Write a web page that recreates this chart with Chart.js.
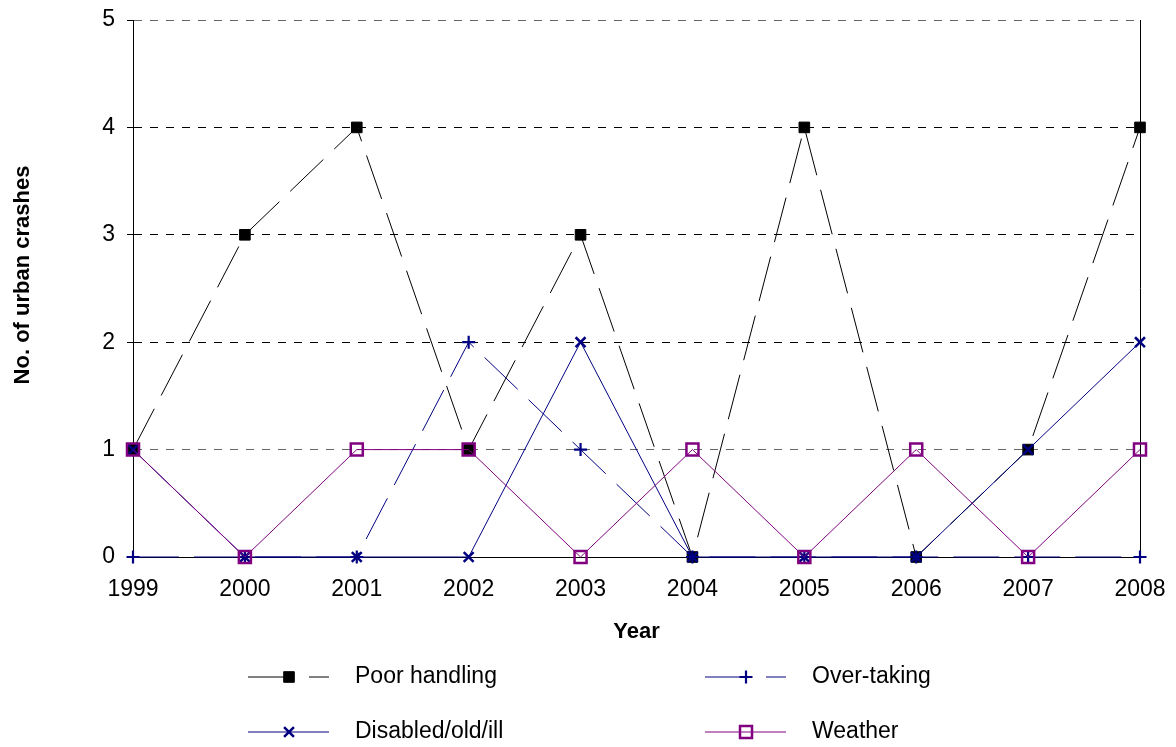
<!DOCTYPE html>
<html>
<head>
<meta charset="utf-8">
<title>Urban crashes</title>
<script src="https://cdn.jsdelivr.net/npm/chart.js@4.4.1/dist/chart.umd.min.js"></script>
<style>
  body { margin: 0; background: #fff; }
  #wrap { width: 1176px; height: 747px; }
</style>
</head>
<body>
<div id="wrap"><canvas id="chart" width="1176" height="747"></canvas></div>
<script>
// datos
const years = ['1999', '2000', '2001', '2002', '2003', '2004', '2005', '2006', '2007', '2008']
const poorHandling = [1, 3, 4, 1, 3, 0, 4, 0, 1, 4]
const overTaking = [0, 0, 0, 2, 1, 0, 0, 0, 0, 0]
const disabledOldIll = [1, 0, 0, 0, 2, 0, 0, 0, 1, 2]
const weather = [1, 0, 1, 1, 0, 1, 0, 1, 0, 1]
const seriesNames = ['Poor handling', 'Over-taking', 'Disabled/old/ill', 'Weather']

const FONT = "'Liberation Sans', Arial, sans-serif"
const NAVY = '#000080'
const PURPLE = '#800080'
const DASH = [46, 15]

Chart.defaults.font.family = FONT
Chart.defaults.color = '#000'

const datasets = [
    {
        label: seriesNames[0], data: poorHandling, order: 3,
        borderColor: '#000', borderWidth: 1, borderDash: DASH,
        pointStyle: 'rect', pointRadius: 7.5, pointBorderWidth: 1,
        pointBackgroundColor: '#000', pointBorderColor: '#000'
    },
    {
        label: seriesNames[1], data: overTaking, order: 2,
        borderColor: NAVY, borderWidth: 1, borderDash: DASH,
        pointStyle: 'cross', pointRadius: 6.5, pointBorderWidth: 2.2,
        pointBackgroundColor: NAVY, pointBorderColor: NAVY
    },
    {
        label: seriesNames[2], data: disabledOldIll, order: 1,
        borderColor: NAVY, borderWidth: 1,
        pointStyle: 'crossRot', pointRadius: 7, pointBorderWidth: 2.5,
        pointBackgroundColor: NAVY, pointBorderColor: NAVY
    },
    {
        label: seriesNames[3], data: weather, order: 0,
        borderColor: PURPLE, borderWidth: 1,
        pointStyle: 'rect', pointRadius: 8.5, pointBorderWidth: 2.5,
        pointBackgroundColor: 'rgba(0,0,0,0)', pointBorderColor: PURPLE
    }
]
datasets.forEach(d => { d.tension = 0; d.fill = false; d.clip = 20; d.pointHoverRadius = d.pointRadius })

// leyenda 2x2 como en el original
const legendPlugin = {
    id: 'boxLegend',
    afterDraw(chart) {
        const ctx = chart.ctx
        const cols = [248, 705]
        const rows = [677, 732]
        chart.data.datasets.forEach((ds, i) => {
            const x0 = cols[i % 2]
            const y = rows[Math.floor(i / 2)]
            ctx.save()
            ctx.strokeStyle = ds.borderColor
            ctx.lineWidth = 1
            ctx.setLineDash(ds.borderDash || [])
            ctx.beginPath()
            ctx.moveTo(x0, y)
            ctx.lineTo(x0 + 81, y)
            ctx.stroke()
            ctx.setLineDash([])
            ctx.fillStyle = ds.pointBackgroundColor
            ctx.strokeStyle = ds.pointBorderColor
            ctx.lineWidth = ds.pointBorderWidth
            Chart.helpers.drawPoint(ctx, {
                pointStyle: ds.pointStyle, radius: ds.pointRadius,
                borderWidth: ds.pointBorderWidth, rotation: 0
            }, x0 + 41, y)
            ctx.fillStyle = '#000'
            ctx.font = '23px ' + FONT
            ctx.textBaseline = 'middle'
            ctx.textAlign = 'left'
            ctx.fillText(ds.label, x0 + 107, y)
            ctx.restore()
        })

        // titulo del eje y
        ctx.save()
        ctx.translate(23, 275)
        ctx.rotate(-Math.PI / 2)
        ctx.font = 'bold 22px ' + FONT
        ctx.fillStyle = '#000'
        ctx.textAlign = 'center'
        ctx.textBaseline = 'middle'
        ctx.fillText('No. of urban crashes', 0, 0)
        ctx.restore()
    },
    beforeDatasetsDraw(chart) {
        // borde derecho del area
        const {ctx, chartArea} = chart
        ctx.save()
        ctx.strokeStyle = '#000'
        ctx.lineWidth = 1
        ctx.beginPath()
        ctx.moveTo(Math.round(chartArea.right) + 0.5, chartArea.top)
        ctx.lineTo(Math.round(chartArea.right) + 0.5, chartArea.bottom)
        ctx.stroke()
        ctx.restore()
    }
}

const options = {
    responsive: false,
    animation: false,
    devicePixelRatio: 1,
    layout: { padding: { left: 0, top: 20, right: 36, bottom: 0 } },
    plugins: {
        legend: { display: false },
        tooltip: { enabled: false }
    },
    scales: {
        x: {
            offset: false,
            grid: { display: false, drawTicks: false },
            border: { display: true, color: '#000', width: 1 },
            ticks: { font: { size: 23 }, color: '#000', padding: 19, maxRotation: 0, autoSkip: false },
            title: {
                display: true, text: 'Year', color: '#000',
                font: { size: 22, weight: 'bold' },
                padding: { top: 0, bottom: 102 }
            },
            afterFit: s => { s.height = 190; s.paddingLeft = 0; s.paddingRight = 0 }
        },
        y: {
            min: 0,
            max: 5,
            grid: {
                color: c => c.tick.value === 0 ? 'rgba(0,0,0,0)' : (c.tick.value === 5 || c.tick.value === 1 ? '#666' : '#000'),
                tickColor: '#000',
                tickLength: 6,
                lineWidth: 1
            },
            border: { display: true, color: '#000', width: 1, dash: [8, 8] },
            ticks: { stepSize: 1, font: { size: 23 }, color: '#000', padding: 12 },
            afterFit: s => { s.width = 133; s.paddingTop = 0; s.paddingBottom = 0 }
        }
    }
}

new Chart('chart', {
    type: 'line',
    data: { labels: years, datasets },
    options,
    plugins: [legendPlugin]
})
</script>
</body>
</html>
